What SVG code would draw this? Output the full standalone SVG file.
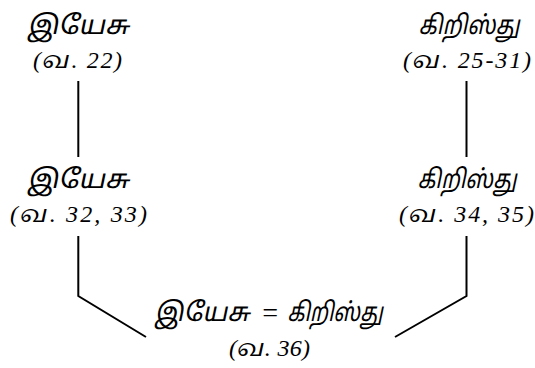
<svg xmlns="http://www.w3.org/2000/svg" width="535" height="368" viewBox="0 0 535 368">
<style>
text{font-family:"Liberation Serif","Noto Serif Tamil","Noto Sans Tamil","Lohit Tamil",serif;fill:#000;text-anchor:middle}
.t{font-size:26px;font-family:"Noto Sans Tamil","Noto Serif Tamil","Lohit Tamil","DejaVu Sans",sans-serif}
.v{font-size:24px;font-style:italic}
.e{font-size:28px;font-style:italic}
.c{stroke:#000;stroke-width:2;fill:none;stroke-linejoin:miter}
</style>
<rect width="535" height="368" fill="#fff"/>
<g id="n1"><text class="t" transform="translate(78,34) skewX(-12) scale(1.07,1)">இயேசு</text><text class="v" x="77.5" y="68" textLength="89">(வ. 22)</text></g>
<g id="n2"><text class="t" transform="translate(469,34) skewX(-12) scale(0.845,1)">கிறிஸ்து</text><text class="v" x="467" y="68" textLength="128">(வ. 25-31)</text></g>
<g id="n3"><text class="t" transform="translate(78,188) skewX(-12) scale(1.07,1)">இயேசு</text><text class="v" x="78.5" y="222" textLength="137">(வ. 32, 33)</text></g>
<g id="n4"><text class="t" transform="translate(467,188) skewX(-12) scale(0.83,1)">கிறிஸ்து</text><text class="v" x="466.5" y="222" textLength="135">(வ. 34, 35)</text></g>
<g id="n5"><text class="t" transform="translate(202,321) skewX(-12)">இயேசு</text><text class="e" x="270" y="322">=</text><text class="t" transform="translate(335,321) skewX(-12) scale(0.8,1)">கிறிஸ்து</text><text class="v" x="269.5" y="356" textLength="81">(வ. 36)</text></g>
<g id="connectors">
<path class="c" d="M78.3 81V157"/>
<path class="c" d="M466.5 81V157"/>
<path class="c" d="M78.3 236V296L146 337"/>
<path class="c" d="M466.5 236V296L395 337"/>
</g>
</svg>
